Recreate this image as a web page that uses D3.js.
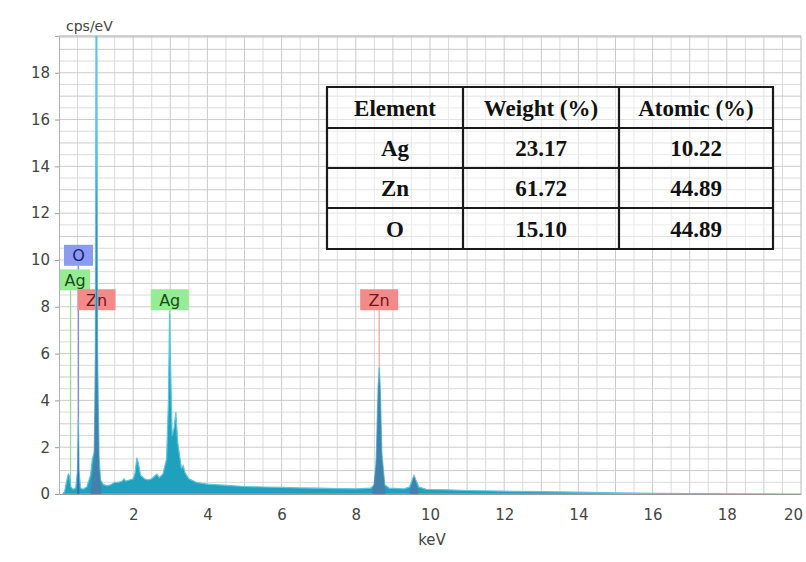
<!DOCTYPE html>
<html>
<head>
<meta charset="utf-8">
<script src="https://cdn.jsdelivr.net/npm/d3@7"></script>
<style>
  body { margin: 0; background: #fff; }
  svg { display: block; }
</style>
</head>
<body>
<svg id="canvas" width="806" height="562"></svg>
<script>
// spectrum: [keV, cps/eV]
var spectrum = [
    [0.10, 0], [0.15, 0.1], [0.20, 0.5], [0.25, 0.85], [0.28, 0.8], [0.32, 0.3],
    [0.38, 0.2], [0.45, 0.25], [0.50, 1.0], [0.52, 3.2], [0.54, 1.0], [0.58, 0.25],
    [0.65, 0.2], [0.75, 0.3], [0.85, 0.8], [0.90, 1.5], [0.95, 1.8], [0.98, 6],
    [1.00, 20], [1.01, 30], [1.02, 20], [1.04, 6], [1.08, 1.6], [1.12, 0.6],
    [1.20, 0.4], [1.30, 0.35], [1.40, 0.4], [1.50, 0.5], [1.60, 0.5], [1.70, 0.55],
    [1.75, 0.65], [1.80, 0.55], [1.90, 0.6], [2.00, 0.65], [2.05, 0.9], [2.10, 1.55],
    [2.14, 1.3], [2.20, 0.8], [2.30, 0.65], [2.40, 0.6], [2.50, 0.65], [2.60, 0.8],
    [2.64, 0.85], [2.70, 0.7], [2.80, 0.85], [2.90, 1.5], [2.95, 4], [2.98, 7.7],
    [3.00, 6], [3.05, 2.5], [3.10, 2.8], [3.15, 3.5], [3.20, 2.2], [3.30, 1.1],
    [3.35, 1.2], [3.40, 0.9], [3.50, 0.65], [3.70, 0.5], [4.0, 0.42], [4.5, 0.37],
    [5.0, 0.32], [5.5, 0.3], [6.0, 0.28], [6.5, 0.26], [7.0, 0.25], [7.5, 0.23],
    [8.0, 0.22], [8.40, 0.25], [8.50, 0.4], [8.55, 1.5], [8.60, 4.5], [8.63, 5.4],
    [8.66, 4.5], [8.70, 1.8], [8.78, 0.4], [8.90, 0.25], [9.30, 0.22], [9.45, 0.3],
    [9.52, 0.6], [9.57, 0.8], [9.62, 0.6], [9.70, 0.3], [9.90, 0.2], [10.5, 0.18],
    [11, 0.15], [12, 0.12], [13, 0.1], [14, 0.08], [15, 0.05], [16, 0.03],
    [17, 0.02], [18, 0.01], [20, 0]
];

// fitted Zn / O lines, drawn darker over the spectrum
var znL = [[0.85, 0], [0.90, 0.8], [0.95, 1.6], [0.98, 5], [1.00, 12], [1.01, 14],
    [1.02, 12], [1.04, 5], [1.08, 1.2], [1.15, 0]];
var znKa = [[8.45, 0], [8.55, 1.3], [8.60, 4.3], [8.63, 5.3], [8.66, 4.3], [8.70, 1.6], [8.80, 0]];
var znKb = [[9.45, 0], [9.52, 0.5], [9.57, 0.75], [9.62, 0.5], [9.70, 0]];
var oK = [[0.49, 0], [0.52, 3.1], [0.55, 0]];

// element markers: name, line energy, label height (cps/eV)
var markerNames = ['O', 'Ag', 'Zn', 'Ag', 'Zn'];
var markerEnergies = [0.525, 0.31, 1.012, 2.984, 8.63];
var markerHeights = [10.2, 9.15, 8.3, 8.3, 8.3];

var xTicks = [2, 4, 6, 8, 10, 12, 14, 16, 18, 20];
var yTicks = [0, 2, 4, 6, 8, 10, 12, 14, 16, 18];

// composition table
var tableHeader = ['Element', 'Weight (%)', 'Atomic (%)'];
var tableElements = ['Ag', 'Zn', 'O'];
var tableWeight = ['23.17', '61.72', '15.10'];
var tableAtomic = ['10.22', '44.89', '44.89'];

var colors = {
    O: { fill: '#8c9bf0', text: '#141f78', line: '#7f8fe8' },
    Ag: { fill: '#95ec95', text: '#174d17', line: '#8fe08f' },
    Zn: { fill: '#f28a8a', text: '#6e1818', line: '#f0a0a0' }
};

function drawChart() {
    "use strict";

    var svg = d3.select(document.getElementById('canvas'));
    var left = 59, right = 801, top = 36, bottom = 494;

    var x = d3.scaleLinear().domain([0, 20]).range([left, right]);
    var y = d3.scaleLinear().domain([0, 19.57]).range([bottom, top]);

    svg.append('clipPath').attr('id', 'plotclip')
        .append('rect').attr('x', left).attr('y', top)
        .attr('width', right - left).attr('height', bottom - top);

    // grid, every 0.5 in both directions
    var grid = svg.append('g');
    grid.selectAll('.vg').data(d3.range(1, 40)).enter().append('line')
        .attr('x1', function(d) { return x(d / 2); })
        .attr('x2', function(d) { return x(d / 2); })
        .attr('y1', top).attr('y2', bottom)
        .attr('stroke', function(d) { return d % 2 === 0 ? '#cbcbcb' : '#dadada'; })
        .attr('stroke-width', 1);
    grid.selectAll('.hg').data(d3.range(1, 40)).enter().append('line')
        .filter(function(d) { return d / 2 < 19.57; })
        .attr('y1', function(d) { return y(d / 2); })
        .attr('y2', function(d) { return y(d / 2); })
        .attr('x1', left).attr('x2', right)
        .attr('stroke', function(d) { return d % 2 === 0 ? '#cbcbcb' : '#dadada'; })
        .attr('stroke-width', 1);

    // plot frame
    svg.append('line').attr('x1', left).attr('x2', right).attr('y1', top).attr('y2', top)
        .attr('stroke', '#a0a0a0');
    svg.append('line').attr('x1', right).attr('x2', right).attr('y1', top).attr('y2', bottom)
        .attr('stroke', '#b8b8b8');

    // marker lines + labels (under the spectrum)
    var markers = svg.append('g').attr('clip-path', 'url(#plotclip)');
    markerNames.forEach(function(name, i) {
        var c = colors[name];
        var cx = x(markerEnergies[i]);
        var cy = y(markerHeights[i]);
        var w = name === 'O' ? 29 : 38, h = 21;
        if (name === 'Ag' && i === 1) { w = 30; }
        var bx = Math.max(cx - w / 2, left + 1);
        markers.append('line')
            .attr('x1', cx).attr('x2', cx)
            .attr('y1', cy + h / 2).attr('y2', bottom)
            .attr('stroke', c.line).attr('stroke-width', 1.2);
        markers.append('rect')
            .attr('x', bx).attr('y', cy - h / 2)
            .attr('width', w).attr('height', h)
            .attr('fill', c.fill);
        markers.append('text')
            .attr('x', bx + w / 2).attr('y', cy + 6)
            .attr('text-anchor', 'middle')
            .attr('font-family', 'DejaVu Sans, Verdana, sans-serif')
            .attr('font-size', 16)
            .attr('fill', c.text)
            .text(name);
    });

    // spectrum
    var area = d3.area()
        .x(function(d) { return x(d[0]); })
        .y0(y(0))
        .y1(function(d) { return y(d[1]); });

    var plot = svg.append('g').attr('clip-path', 'url(#plotclip)');
    plot.append('path').datum(spectrum)
        .attr('d', area)
        .attr('fill', '#1fa0bc')
        .attr('stroke', '#5fc4dc')
        .attr('stroke-width', 1.2);

    [znL, znKa, znKb].forEach(function(pk) {
        plot.append('path').datum(pk)
            .attr('d', area)
            .attr('fill', '#4a7aa6')
            .attr('opacity', 0.8);
    });
    plot.append('path').datum(oK)
        .attr('d', area)
        .attr('fill', '#3b62b8')
        .attr('opacity', 0.8);

    // axes
    var xAxis = d3.axisBottom(x).tickValues(xTicks).tickSize(0).tickPadding(15);
    var gx = svg.append('g').attr('transform', 'translate(0,' + bottom + ')').call(xAxis);
    gx.select('.domain').attr('stroke', '#9a9a9a');
    gx.selectAll('text')
        .attr('font-family', 'DejaVu Sans, Verdana, sans-serif')
        .attr('font-size', 15).attr('fill', '#444');
    gx.selectAll('.tick').filter(function(d) { return d === 20; })
        .select('text').attr('dx', -8);

    var yAxis = d3.axisLeft(y).tickValues(yTicks).tickSize(4).tickPadding(5);
    var gy = svg.append('g').attr('transform', 'translate(' + left + ',0)').call(yAxis);
    gy.select('.domain').attr('stroke', '#b0b0b0');
    gy.selectAll('.tick line').attr('stroke', '#9a9a9a');
    gy.selectAll('text')
        .attr('font-family', 'DejaVu Sans, Verdana, sans-serif')
        .attr('font-size', 15).attr('fill', '#444');

    svg.append('text').attr('x', 66).attr('y', 31)
        .attr('font-family', 'DejaVu Sans, Verdana, sans-serif')
        .attr('font-size', 14).attr('fill', '#444')
        .text('cps/eV');
    svg.append('text').attr('x', 432).attr('y', 545)
        .attr('text-anchor', 'middle')
        .attr('font-family', 'DejaVu Sans, Verdana, sans-serif')
        .attr('font-size', 15).attr('fill', '#444')
        .text('keV');

    drawTable(svg);
}

function drawTable(svg) {
    "use strict";

    var colEdges = [327, 463, 619, 773];
    var rowEdges = [87, 128, 168, 208, 249];
    var rows = [tableHeader];
    tableElements.forEach(function(el, i) {
        rows.push([el, tableWeight[i], tableAtomic[i]]);
    });

    var t = svg.append('g');
    t.append('rect')
        .attr('x', colEdges[0]).attr('y', rowEdges[0])
        .attr('width', colEdges[3] - colEdges[0])
        .attr('height', rowEdges[4] - rowEdges[0])
        .attr('fill', '#fff').attr('fill-opacity', 0.45);

    rows.forEach(function(row, r) {
        row.forEach(function(cell, c) {
            t.append('text')
                .attr('x', (colEdges[c] + colEdges[c + 1]) / 2)
                .attr('y', (rowEdges[r] + rowEdges[r + 1]) / 2 + 8)
                .attr('text-anchor', 'middle')
                .attr('font-family', 'Liberation Serif, Times New Roman, serif')
                .attr('font-weight', 'bold')
                .attr('font-size', 23)
                .attr('fill', '#111')
                .text(cell);
        });
    });

    colEdges.forEach(function(cx) {
        t.append('line').attr('x1', cx).attr('x2', cx)
            .attr('y1', rowEdges[0]).attr('y2', rowEdges[4])
            .attr('stroke', '#1a1a1a').attr('stroke-width', 2.2);
    });
    rowEdges.forEach(function(ry) {
        t.append('line').attr('x1', colEdges[0] - 1).attr('x2', colEdges[3] + 1)
            .attr('y1', ry).attr('y2', ry)
            .attr('stroke', '#1a1a1a').attr('stroke-width', 2.2);
    });
}

drawChart();
</script>
</body>
</html>
